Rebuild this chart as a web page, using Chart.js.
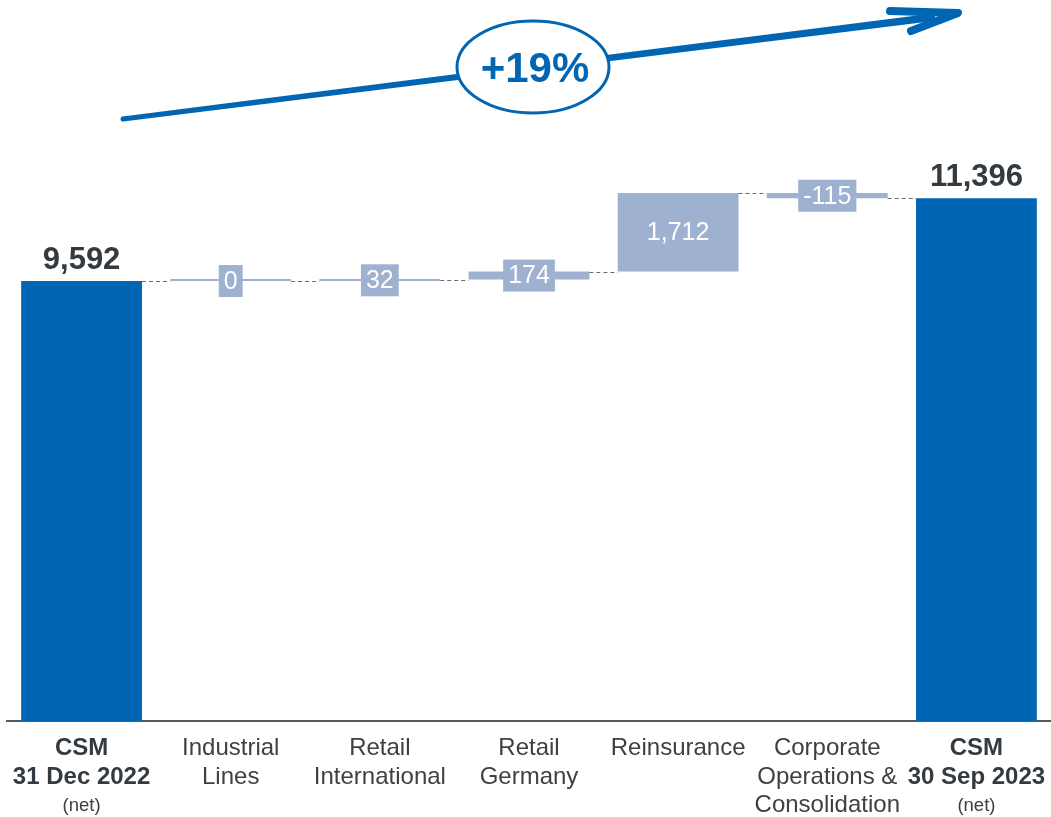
<!DOCTYPE html>
<html>
<head>
<meta charset="utf-8">
<script src="https://cdn.jsdelivr.net/npm/chart.js@4"></script>
<style>
  html, body { margin: 0; padding: 0; background: #fff; }
  #wrap { width: 1051px; height: 817px; position: relative; }
</style>
</head>
<body>
<div id="wrap"><canvas id="csm"></canvas></div>
<script>
// categories, label lines as drawn under the axis
const categories = ["CSM 31 Dec 2022", "Industrial Lines", "Retail International", "Retail Germany",
  "Reinsurance", "Corporate Operations & Consolidation", "CSM 30 Sep 2023"];
const catLines = [
  ["CSM", "31 Dec 2022", "(net)"],
  ["Industrial", "Lines"],
  ["Retail", "International"],
  ["Retail", "Germany"],
  ["Reinsurance"],
  ["Corporate", "Operations &", "Consolidation"],
  ["CSM", "30 Sep 2023", "(net)"]
];
const values = [9592, 0, 32, 174, 1712, -115, 11396];
const isTotal = [true, false, false, false, false, false, true];
const valueLabels = ["9,592", "0", "32", "174", "1,712", "-115", "11,396"];
const growthLabel = "+19%";

const blue = "#0066b3";
const grey = "#9fb1d0";
const FONT = "'Liberation Sans', Arial, sans-serif";

// floating ranges for the waterfall
let run = 0;
const ranges = values.map((v, i) => {
  if (isTotal[i]) { run = v; return [0, v]; }
  const r = [run, run + v];
  run += v;
  return r;
});

const waterfallExtras = {
  id: "waterfallExtras",
  afterDatasetsDraw(chart) {
    const ctx = chart.ctx;
    const xs = chart.scales.x, ys = chart.scales.y;
    const meta = chart.getDatasetMeta(0);
    ctx.save();

    // dashed connectors
    ctx.strokeStyle = "#6b6b6b";
    ctx.lineWidth = 1;
    ctx.setLineDash([4, 3]);
    for (let i = 0; i < ranges.length - 1; i++) {
      const a = meta.data[i], b = meta.data[i + 1];
      const lvl = Math.round(ys.getPixelForValue(ranges[i][1])) + 0.5;
      ctx.beginPath();
      ctx.moveTo(a.x + a.width / 2, lvl);
      ctx.lineTo(b.x - b.width / 2, lvl);
      ctx.stroke();
    }
    ctx.setLineDash([]);

    // value labels
    ctx.textAlign = "center";
    meta.data.forEach((bar, i) => {
      if (isTotal[i]) {
        ctx.font = "bold 31px " + FONT;
        ctx.fillStyle = "#333a40";
        ctx.textBaseline = "alphabetic";
        ctx.fillText(valueLabels[i], bar.x, ys.getPixelForValue(ranges[i][1]) - 12);
      } else {
        ctx.font = "25px " + FONT;
        ctx.textBaseline = "middle";
        const mid = ys.getPixelForValue((ranges[i][0] + ranges[i][1]) / 2);
        const w = ctx.measureText(valueLabels[i]).width + 10;
        ctx.fillStyle = grey;
        ctx.fillRect(bar.x - w / 2, mid - 16, w, 32);
        ctx.fillStyle = "#ffffff";
        ctx.fillText(valueLabels[i], bar.x, mid + 1);
      }
    });

    // category labels under the axis
    ctx.textBaseline = "middle";
    const base = chart.chartArea.bottom;
    catLines.forEach((lines, i) => {
      const x = xs.getPixelForValue(i);
      lines.forEach((t, k) => {
        if (isTotal[i] && k < 2) {
          ctx.font = "bold 24px " + FONT;
          ctx.fillStyle = "#333a40";
        } else if (isTotal[i]) {
          ctx.font = "18.5px " + FONT;
          ctx.fillStyle = "#404040";
        } else {
          ctx.font = "24px " + FONT;
          ctx.fillStyle = "#404040";
        }
        ctx.fillText(t, x, base + 27.5 + k * 28.5);
      });
    });
    ctx.restore();
  },
  afterDraw(chart) {
    // growth arrow with the ellipse on top
    const ctx = chart.ctx;
    ctx.save();
    ctx.fillStyle = blue;
    ctx.strokeStyle = blue;
    const x0 = 123, y0 = 119, x1 = 935, y1 = 17;
    const len = Math.hypot(x1 - x0, y1 - y0);
    const nx = -(y1 - y0) / len, ny = (x1 - x0) / len;
    const w0 = 2.5, w1 = 3.8;
    ctx.beginPath();
    ctx.moveTo(x0 + nx * w0, y0 + ny * w0);
    ctx.lineTo(x1 + nx * w1, y1 + ny * w1);
    ctx.lineTo(x1 - nx * w1, y1 - ny * w1);
    ctx.lineTo(x0 - nx * w0, y0 - ny * w0);
    ctx.closePath();
    ctx.fill();
    ctx.beginPath();
    ctx.arc(x0, y0, w0, 0, Math.PI * 2);
    ctx.fill();
    // arrow head
    ctx.lineCap = "round";
    ctx.lineJoin = "round";
    ctx.lineWidth = 8;
    ctx.beginPath();
    ctx.moveTo(890, 11);
    ctx.lineTo(958, 13);
    ctx.lineTo(911, 31);
    ctx.stroke();

    // ellipse
    ctx.beginPath();
    ctx.ellipse(533, 67, 76, 46, 0, 0, Math.PI * 2);
    ctx.fillStyle = "#ffffff";
    ctx.fill();
    ctx.lineWidth = 3;
    ctx.stroke();
    ctx.fillStyle = blue;
    ctx.font = "bold 42px " + FONT;
    ctx.textAlign = "center";
    ctx.textBaseline = "middle";
    ctx.fillText(growthLabel, 535, 70);
    ctx.restore();
  }
};

new Chart(document.getElementById("csm"), {
  type: "bar",
  data: {
    labels: categories,
    datasets: [{
      data: ranges,
      backgroundColor: isTotal.map(t => t ? blue : grey),
      borderWidth: 0,
      borderSkipped: false,
      minBarLength: 2,
      barPercentage: 0.81,
      categoryPercentage: 1
    }]
  },
  options: {
    responsive: true,
    maintainAspectRatio: false,
    animation: false,
    layout: { padding: { top: 33, bottom: 88, left: 7, right: 0 } },
    plugins: { legend: { display: false }, tooltip: { enabled: false } },
    scales: {
      x: {
        grid: { display: false },
        border: { display: true, color: "#5a5a5a", width: 2 },
        ticks: { display: false }
      },
      y: {
        display: false,
        min: 0,
        max: 15000
      }
    }
  },
  plugins: [waterfallExtras]
});
</script>
</body>
</html>
